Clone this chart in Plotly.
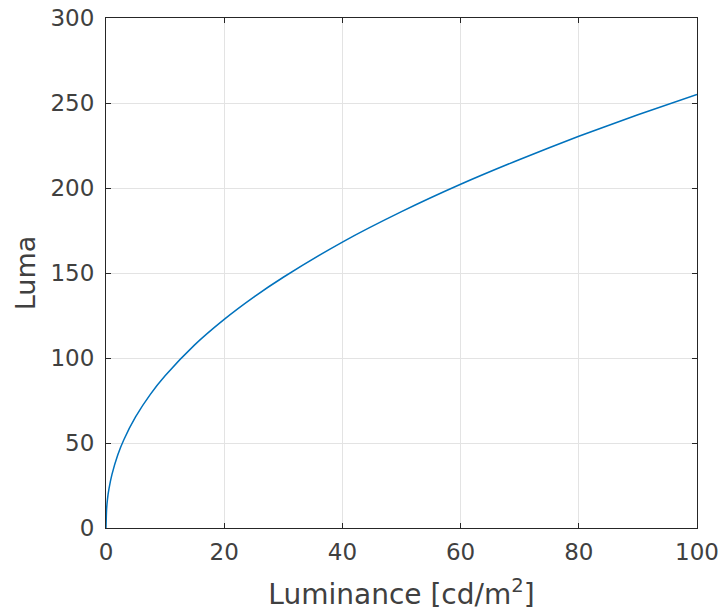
import plotly.graph_objects as go

luminance = [0, 0.1, 0.25, 0.5, 1, 2, 3, 5, 7.5, 10, 15, 20, 25, 30, 40, 50, 60, 70, 80, 90, 100]
luma = [0, 11, 17, 23, 31.4, 43.1, 51.8, 65.3, 78.6, 89.5, 107.7, 122.7, 135.8, 147.5, 168.2, 186.1, 202.2, 216.8, 230.4, 243.1, 255]

x_ticks = [0, 20, 40, 60, 80, 100]
y_ticks = [0, 50, 100, 150, 200, 250, 300]

font = "DejaVu Sans"
axcol = "#262626"
txtcol = "#404040"

fig = go.Figure()
fig.add_trace(go.Scatter(x=luminance, y=luma, mode="lines",
                         line=dict(color="#0072BD", width=1.5, shape="spline", smoothing=0.6),
                         showlegend=False))

common = dict(showline=True, linecolor=axcol, linewidth=1.2, mirror="ticks",
              ticks="inside", ticklen=5, tickcolor=axcol, tickwidth=1,
              showgrid=True, gridcolor="#e3e3e3", gridwidth=1, zeroline=False,
              automargin=False, ticklabeloverflow="allow",
              tickfont=dict(family=font, size=23, color=txtcol))

fig.update_xaxes(range=[0, 100], tickvals=x_ticks, ticklabelstandoff=3,
                 title=dict(text="Luminance [cd/m<sup>2</sup>]", font=dict(family=font, size=28, color=txtcol), standoff=20),
                 **common)
fig.update_yaxes(range=[0, 300], tickvals=y_ticks, ticklabelstandoff=6,
                 title=dict(text="Luma", font=dict(family=font, size=27, color=txtcol), standoff=6),
                 **common)

fig.update_layout(width=720, height=613, paper_bgcolor="white", plot_bgcolor="white",
                  margin=dict(l=106, r=23, t=18, b=85))

fig.write_html("out.html", config={"displayModeBar": False},
               post_script="document.body.style.margin='0';document.body.style.overflow='hidden';")
